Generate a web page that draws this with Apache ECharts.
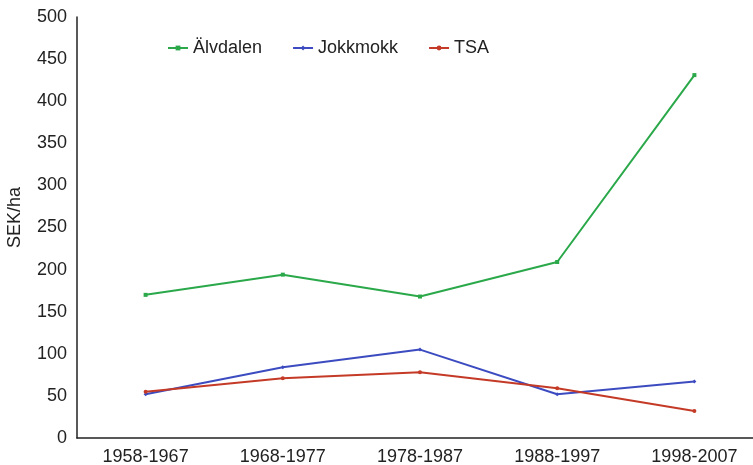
<!DOCTYPE html>
<html>
<head>
<meta charset="utf-8">
<script src="https://cdn.jsdelivr.net/npm/echarts@6/dist/echarts.min.js"></script>
<style>
html, body { margin: 0; padding: 0; background: #fff; }
#chart { width: 753px; height: 465px; }
</style>
</head>
<body>
<div id="chart"></div>
<script>
var periods = ['1958-1967', '1968-1977', '1978-1987', '1988-1997', '1998-2007'];
var alvdalen = [170, 194, 168, 209, 431];
var jokkmokk = [52, 84, 105, 52, 67];
var tsa = [55, 71, 78, 59, 32];
var yTicks = [0, 50, 100, 150, 200, 250, 300, 350, 400, 450, 500];

var chart = echarts.init(document.getElementById('chart'));

function line(name, data, color, symbol) {
    return {
        name: name,
        type: 'line',
        data: data,
        symbol: symbol,
        symbolSize: 4,
        showSymbol: true,
        lineStyle: { color: color, width: 2 },
        itemStyle: { color: color },
        emphasis: { disabled: true }
    };
}

var option = {
    animation: false,
    textStyle: { fontFamily: 'Liberation Sans, Arial, sans-serif' },
    grid: { left: 77, top: 17, right: -10, bottom: 27, outerBoundsMode: 'none', containLabel: false },
    legend: {
        left: 162,
        top: 34,
        itemGap: 30,
        itemWidth: 20,
        itemHeight: 6,
        textStyle: { fontSize: 18, color: '#222' },
        data: ['Älvdalen', 'Jokkmokk', 'TSA']
    },
    xAxis: {
        type: 'category',
        data: periods,
        axisLine: { lineStyle: { color: '#222', width: 1.5 } },
        axisTick: { show: false },
        axisLabel: { color: '#222', fontSize: 18, margin: 10 }
    },
    yAxis: {
        type: 'value',
        min: yTicks[0],
        max: yTicks[yTicks.length - 1],
        interval: 50,
        name: 'SEK/ha',
        nameLocation: 'middle',
        nameGap: 53,
        nameTextStyle: { color: '#222', fontSize: 18, padding: [0, 0, 0, 20] },
        axisLine: { show: true, lineStyle: { color: '#222', width: 1.5 } },
        axisTick: { show: false },
        splitLine: { show: false },
        axisLabel: { color: '#222', fontSize: 18, margin: 10 }
    },
    series: [
        line('Älvdalen', alvdalen, '#2aa84a', 'rect'),
        line('Jokkmokk', jokkmokk, '#3c4cc0', 'diamond'),
        line('TSA', tsa, '#c43a26', 'circle')
    ]
};

chart.setOption(option);
</script>
</body>
</html>
